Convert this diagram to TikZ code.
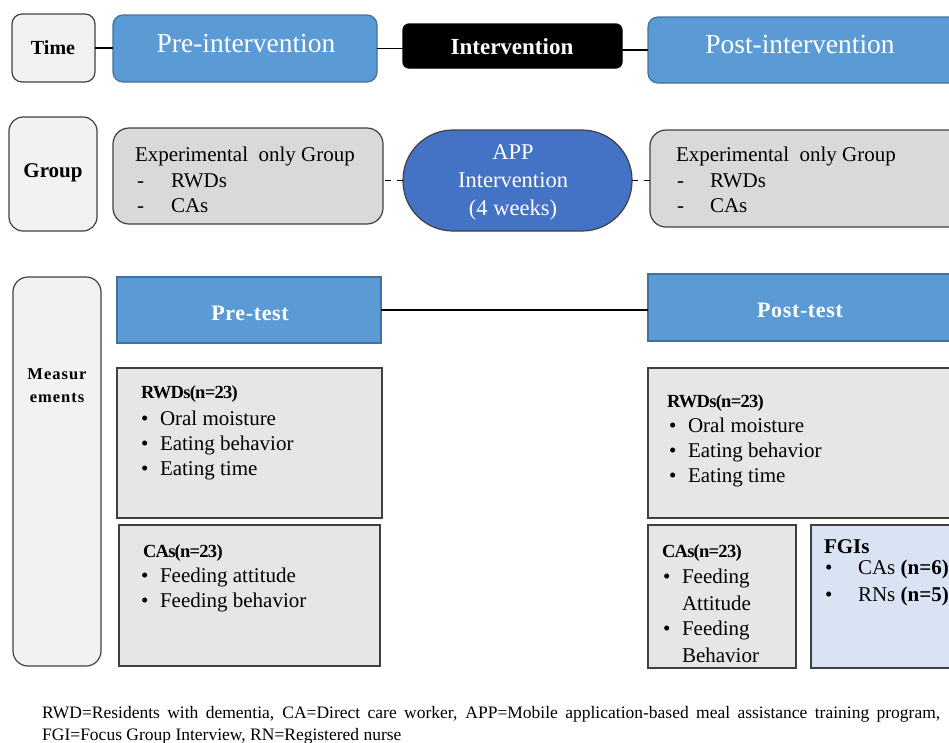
\documentclass[tikz,border=0pt]{standalone}
\usepackage{fontspec}
\setmainfont{Liberation Serif}
\definecolor{lblue}{HTML}{5B9BD5}
\definecolor{dblue}{HTML}{4472C4}
\definecolor{bblue}{HTML}{41719C}
\definecolor{lgray}{HTML}{F2F2F2}
\definecolor{mgray}{HTML}{D9D9D9}
\definecolor{pgray}{HTML}{E7E6E6}
\definecolor{fgi}{HTML}{DAE3F3}
\definecolor{edge}{HTML}{404040}
\tikzset{
  box/.style={draw=edge, inner sep=0pt, outer sep=0pt, anchor=north west, line width=1.2pt},
  conn/.style={line width=1.8pt, black},
  txt/.style={inner sep=0pt, outer sep=0pt, anchor=base west, font=\fontsize{21}{25}\selectfont},
  btxt/.style={inner sep=0pt, outer sep=0pt, font=\fontsize{21}{25}\selectfont\bfseries},
}
\begin{document}
\begin{tikzpicture}[x=1pt,y=-1pt]
\useasboundingbox (0,0) rectangle (949,742);
\clip (0,0) rectangle (949,742);
% ---- Time row
\node[box, fill=lgray, rounded corners=10pt, minimum width=83pt, minimum height=68pt] (time) at (12,14) {};
\node[box, fill=lblue, draw=bblue, rounded corners=10pt, minimum width=264pt, minimum height=67pt] (pre) at (113,15) {};
\node[box, fill=black, draw=black, rounded corners=6pt, minimum width=219pt, minimum height=44pt] (interv) at (403,24) {};
\node[box, fill=lblue, draw=bblue, rounded corners=10pt, minimum width=320pt, minimum height=66pt] (post) at (648,17) {};
\node[btxt, font=\fontsize{20}{24}\selectfont\bfseries] (timet) at (53,48) {Time};
\node[inner sep=0pt, text=white, font=\fontsize{27.5}{30}\selectfont] (pret) at (246,44) {Pre-intervention};
\node[inner sep=0pt, text=white, font=\fontsize{23}{26}\selectfont\bfseries] (intervt) at (512,47) {Intervention};
\node[inner sep=0pt, text=white, font=\fontsize{27.5}{30}\selectfont] (postt) at (800,45) {Post-intervention};
\draw[conn] (time.east) -- (time.east -| pre.west);
\draw[conn] (pre.east) -- (pre.east -| interv.west);
\draw[conn] (post.west -| interv.east) -- (post.west);
% ---- Group row
\node[box, fill=lgray, rounded corners=14pt, minimum width=88pt, minimum height=114pt] (group) at (9,117) {};
\node[box, fill=mgray, rounded corners=16pt, minimum width=270pt, minimum height=96pt] (expL) at (113,128) {};
\node[box, fill=dblue, draw=edge, rounded corners=50pt, minimum width=229pt, minimum height=101pt] (app) at (403,130) {};
\node[box, fill=mgray, rounded corners=16pt, minimum width=320pt, minimum height=97pt] (expR) at (650,130) {};
\node[btxt] (groupt) at (53,173) {Group};
\node[txt] (eL1) at (135,161) {Experimental\hspace{0.25em} only Group};
\node[txt] (eL2) at (137,187) {-};
\node[txt] (eL3) at (171,187) {RWDs};
\node[txt] (eL4) at (137,212) {-};
\node[txt] (eL5) at (171,212) {CAs};
\node[inner sep=0pt, text=white, align=center, font=\fontsize{22.5}{28}\selectfont] (appt) at (513,182) {APP\\Intervention\\(4 weeks)};
\node[txt] (eR1) at (676,161) {Experimental\hspace{0.25em} only Group};
\node[txt] (eR2) at (677,187) {-};
\node[txt] (eR3) at (710,187) {RWDs};
\node[txt] (eR4) at (677,212) {-};
\node[txt] (eR5) at (710,212) {CAs};
\draw[conn, dash pattern=on 6pt off 6pt] (app.west) -- (app.west -| expL.east);
\draw[conn, dash pattern=on 6pt off 6pt] (app.east) -- (app.east -| expR.west);
% ---- Measurements
\node[box, fill=lgray, rounded corners=15pt, minimum width=88pt, minimum height=389pt] (meas) at (13,277) {};
\node[inner sep=0pt, align=center, font=\fontsize{16.5}{23}\selectfont\bfseries\addfontfeature{LetterSpace=6}] (meast) at (57,386) {Measur\\ements};
\node[box, fill=lblue, draw=bblue, minimum width=264pt, minimum height=66pt] (pretest) at (117,277) {};
\node[box, fill=lblue, draw=bblue, minimum width=320pt, minimum height=67pt] (posttest) at (648,274) {};
\node[btxt, text=white, font=\fontsize{22}{26}\selectfont\bfseries\addfontfeature{LetterSpace=3}] (pretestt) at (250,313) {Pre-test};
\node[btxt, text=white, font=\fontsize{22}{26}\selectfont\bfseries\addfontfeature{LetterSpace=3}] (posttestt) at (800,310) {Post-test};
\draw[conn] (pretest.east) -- (pretest.east -| posttest.west);
% pre boxes
\node[box, fill=pgray, minimum width=265pt, minimum height=150pt] (rwdpre) at (117,368) {};
\node[box, fill=pgray, minimum width=261pt, minimum height=141pt] (capre) at (119,525) {};
\node[txt, font=\fontsize{18.5}{22}\selectfont\bfseries\addfontfeature{LetterSpace=-4}] (r0) at (141,398) {RWDs(n=23)};
\node[txt] (r1b) at (141,425) {•}; \node[txt] (r1) at (160,425) {Oral moisture};
\node[txt] (r2b) at (141,450) {•}; \node[txt] (r2) at (160,450) {Eating behavior};
\node[txt] (r3b) at (141,475) {•}; \node[txt] (r3) at (160,475) {Eating time};
\node[txt, font=\fontsize{18.5}{22}\selectfont\bfseries\addfontfeature{LetterSpace=-4}] (c0) at (143,557) {CAs(n=23)};
\node[txt] (c1b) at (141,582) {•}; \node[txt] (c1) at (160,582) {Feeding attitude};
\node[txt] (c2b) at (141,607) {•}; \node[txt] (c2) at (160,607) {Feeding behavior};
% post boxes
\node[box, fill=pgray, minimum width=320pt, minimum height=150pt] (rwdpost) at (648,368) {};
\node[box, fill=pgray, minimum width=148pt, minimum height=143pt] (capost) at (648,525) {};
\node[box, fill=fgi, minimum width=160pt, minimum height=143pt] (fgibox) at (811,525) {};
\node[txt, font=\fontsize{18.5}{22}\selectfont\bfseries\addfontfeature{LetterSpace=-4}] (pr0) at (667,407) {RWDs(n=23)};
\node[txt] (pr1b) at (669,432) {•}; \node[txt] (pr1) at (688,432) {Oral moisture};
\node[txt] (pr2b) at (669,457) {•}; \node[txt] (pr2) at (688,457) {Eating behavior};
\node[txt] (pr3b) at (669,482) {•}; \node[txt] (pr3) at (688,482) {Eating time};
\node[txt, font=\fontsize{18.5}{22}\selectfont\bfseries\addfontfeature{LetterSpace=-4}] (pc0) at (662,557) {CAs(n=23)};
\node[txt] (pc1b) at (663,583) {•}; \node[txt] (pc1) at (682,583) {Feeding};
\node[txt] (pc2) at (682,610) {Attitude};
\node[txt] (pc3b) at (663,635) {•}; \node[txt] (pc3) at (682,635) {Feeding};
\node[txt] (pc4) at (682,662) {Behavior};
\node[txt, font=\fontsize{21}{25}\selectfont\bfseries] (f0) at (824,553) {FGIs};
\node[txt] (f1b) at (825,574) {•}; \node[txt] (f1) at (858,574) {CAs \textbf{(n=6)}};
\node[txt] (f2b) at (825,601) {•}; \node[txt] (f2) at (858,601) {RNs \textbf{(n=5)}};
% footer
\node[inner sep=0pt, anchor=base west, font=\fontsize{17.5}{22}\selectfont] (foot) at (42,718) {\parbox[t]{898pt}{RWD=Residents with dementia, CA=Direct care worker, APP=Mobile application-based meal assistance training program,\linebreak FGI=Focus Group Interview, RN=Registered nurse}};
\end{tikzpicture}
\end{document}
